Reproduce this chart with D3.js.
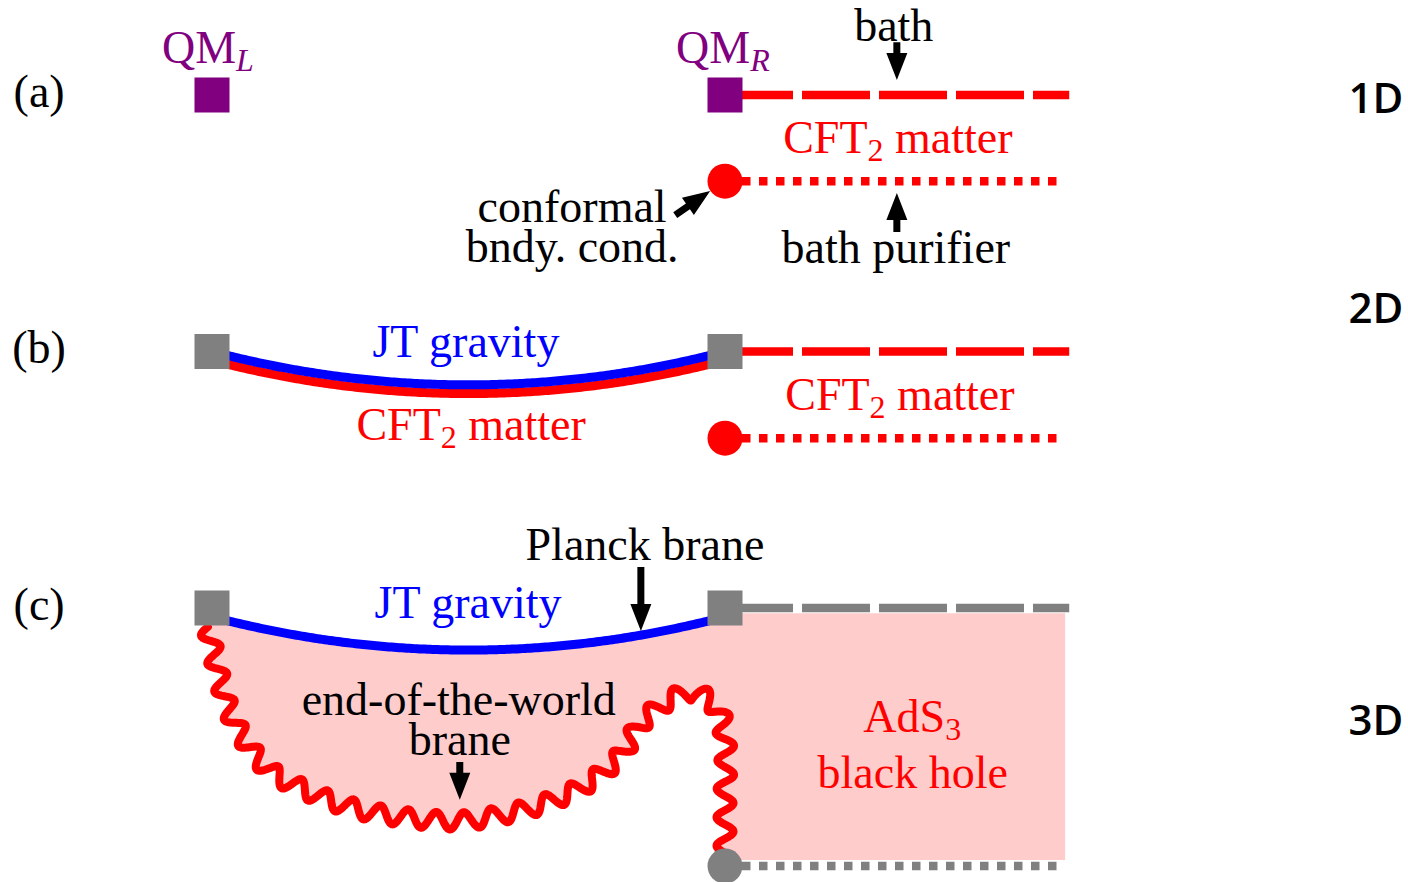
<!DOCTYPE html>
<html>
<head>
<meta charset="utf-8">
<script src="https://cdn.jsdelivr.net/npm/d3@7"></script>
<style>
  html, body { margin: 0; padding: 0; background: #fff; }
  svg { display: block; }
  .serif { font-family: "Liberation Serif", "Times New Roman", serif; }
  .dim { font-family: "Open Sans", "Noto Sans", sans-serif; font-weight: 600; }
</style>
</head>
<body>
<svg id="fig" width="1408" height="882"></svg>
<script>
// Diagram coordinates: one unit = distance between the two boundary quantum systems.
// u runs left→right (QM_L at 0, QM_R at 1); v runs top→bottom (row a at 0, row b at 0.5, row c at 1).
const rowV = [0, 0.5, 1];
const panelLabels = ["(a)", "(b)", "(c)"];
const panelLabelU = -0.337;
const panelLabelDV = 0.023;
const dimensionLabels = ["1D", "2D", "3D"];
const dimensionV = [0.035, 0.444, 1.247];
const dimensionU = 2.269;
const boundaryU = [0, 1];
const bathEndU = 1.671;
const purifierEndU = 1.653;
const purifierV = [0.168, 0.669];
const shadowPurifierV = 1.503;
const arcSag = 0.065;
// JT boundary arcs: row, vertical offset from the row, colour
const arcRows = [0.5, 0.5, 1];
const arcOffsets = [0.017, 0, 0.017];
const arcColors = ["#ff0000", "#0000ff", "#0000ff"];
// AdS3 black hole region to the right of the boundary
const blackHoleU = [1, 1.663];
const blackHoleV = [1.010, 1.491];
// End-of-the-world brane centre line
const braneU = [-0.008, 0.006, 0.035, 0.074, 0.117, 0.191, 0.275, 0.366, 0.483, 0.561, 0.639, 0.727, 0.795, 0.834, 0.883, 0.938, 0.986, 1.000, 1.000, 1.000];
const braneV = [1.037, 1.101, 1.203, 1.273, 1.320, 1.359, 1.390, 1.407, 1.415, 1.404, 1.384, 1.345, 1.289, 1.228, 1.185, 1.164, 1.199, 1.257, 1.374, 1.487];
// Annotation arrows: tail (u,v) → head (u,v)
const arrowFromU = [1.335, 1.335, 0.903, 0.836, 0.483];
const arrowFromV = [-0.103, 0.267, 0.234, 0.920, 1.300];
const arrowToU = [1.335, 1.335, 0.971, 0.836, 0.483];
const arrowToV = [-0.029, 0.191, 0.187, 1.045, 1.374];
// Text labels
const labelText = ["QM", "QM", "bath", "CFT", "conformal", "bndy. cond.", "bath purifier",
  "JT gravity", "CFT", "CFT", "Planck brane", "JT gravity", "end-of-the-world", "brane", "AdS", "black hole"];
const labelSub = ["L", "R", "", "2", "", "", "", "", "2", "2", "", "", "", "", "3", ""];
const labelTail = ["", "", "", " matter", "", "", "", "", " matter", " matter", "", "", "", "", "", ""];
const labelU = [-0.008, 0.996, 1.329, 1.337, 0.702, 0.702, 1.333, 0.495, 0.505, 1.341, 0.844, 0.499, 0.481, 0.483, 1.365, 1.366];
const labelV = [-0.062, -0.062, -0.105, 0.113, 0.248, 0.326, 0.327, 0.511, 0.673, 0.614, 0.906, 1.019, 1.209, 1.287, 1.242, 1.351];
const labelColor = ["#800080", "#800080", "#000", "#ff0000", "#000", "#000", "#000",
  "#0000ff", "#ff0000", "#ff0000", "#000", "#0000ff", "#000", "#000", "#ff0000", "#ff0000"];

const x = d3.scaleLinear().domain([0, 1]).range([212, 725]);
const y = d3.scaleLinear().domain([0, 1]).range([95, 608]);
const unit = x(1) - x(0);

const svg = d3.select("#fig");
const RED = "#ff0000", BLUE = "#0000ff", GRAY = "#808080", PURPLE = "#800080", PINK = "#ffcccc";
const sq = 35, dotR = 17.5;

// circular arc between the two boundary points of a row, bowing downward
function arcPoints(row, offset) {
  const x0 = x(0), x1 = x(1);
  const h = (x1 - x0) / 2;
  const s = arcSag * unit;
  const R = (h * h + s * s) / (2 * s);
  const cx = x(0.5), cy = y(row + offset + arcSag) - R;
  const pts = [];
  for (let i = 0; i <= 200; i++) {
    const px = x0 + (x1 - x0) * i / 200;
    pts.push([px, cy + Math.sqrt(R * R - (px - cx) * (px - cx))]);
  }
  return pts;
}

// snake-decorated brane: sine offset along the smoothed centre line
function wavyPoints() {
  const base = braneU.map((u, i) => [x(u), y(braneV[i])]);
  const tmp = svg.append("path")
    .attr("d", d3.line().curve(d3.curveCatmullRom.alpha(0.5))(base))
    .attr("fill", "none");
  const node = tmp.node();
  const L = node.getTotalLength();
  const amp = 8.5, lambda = 28.5;
  const pts = [];
  for (let s = 0; s <= L; s += 0.75) {
    const p = node.getPointAtLength(s);
    const a = node.getPointAtLength(Math.max(0, s - 0.6));
    const b = node.getPointAtLength(Math.min(L, s + 0.6));
    let tx = b.x - a.x, ty = b.y - a.y;
    const tl = Math.hypot(tx, ty) || 1;
    tx /= tl; ty /= tl;
    const off = amp * Math.sin(2 * Math.PI * s / lambda);
    pts.push([p.x - ty * off, p.y + tx * off]);
  }
  tmp.remove();
  return pts;
}

const line = d3.line();

// ---- (c) shaded bulk region ----
const wave = wavyPoints();
const topArc = arcPoints(arcRows[2], arcOffsets[2]);
const regionPts = topArc
  .concat([[x(blackHoleU[0]), y(blackHoleV[0])], [x(blackHoleU[1]), y(blackHoleV[0])],
           [x(blackHoleU[1]), y(blackHoleV[1])], [x(blackHoleU[0]), y(blackHoleV[1])]])
  .concat(wave.slice().reverse());
svg.append("path").attr("d", line(regionPts) + "Z").attr("fill", PINK).attr("stroke", "none");

// ---- bath lines (dashed) and purifier lines (dotted) ----
const bathRows = [{ v: rowV[0], c: RED }, { v: rowV[1], c: RED }, { v: rowV[2], c: GRAY }];
svg.selectAll("line.bath").data(bathRows).join("line")
  .attr("class", "bath")
  .attr("x1", x(1)).attr("x2", x(bathEndU))
  .attr("y1", d => y(d.v)).attr("y2", d => y(d.v))
  .attr("stroke", d => d.c).attr("stroke-width", 8.5)
  .attr("stroke-dasharray", "68 9");

const purRows = [{ v: purifierV[0], c: RED }, { v: purifierV[1], c: RED }, { v: shadowPurifierV, c: GRAY }];
svg.selectAll("line.pur").data(purRows).join("line")
  .attr("class", "pur")
  .attr("x1", x(1)).attr("x2", x(purifierEndU))
  .attr("y1", d => y(d.v)).attr("y2", d => y(d.v))
  .attr("stroke", d => d.c).attr("stroke-width", 8.5)
  .attr("stroke-dasharray", "8.5 8.5");

// ---- JT boundary arcs ----
arcRows.forEach((row, i) => {
  svg.append("path").attr("d", line(arcPoints(row, arcOffsets[i])))
    .attr("fill", "none").attr("stroke", arcColors[i]).attr("stroke-width", 9);
});

// ---- end-of-the-world brane ----
svg.append("path").attr("d", line(wave))
  .attr("fill", "none").attr("stroke", RED).attr("stroke-width", 8)
  .attr("stroke-linejoin", "round").attr("stroke-linecap", "round");

// ---- boundary squares ----
const squares = [];
rowV.forEach((v, r) => boundaryU.forEach(u => squares.push({ u, v, c: r === 0 ? PURPLE : GRAY })));
svg.selectAll("rect.qm").data(squares).join("rect")
  .attr("class", "qm")
  .attr("x", d => x(d.u) - sq / 2).attr("y", d => y(d.v) - sq / 2)
  .attr("width", sq).attr("height", sq).attr("fill", d => d.c);

// ---- conformal boundary condition dots ----
svg.selectAll("circle.bc").data(purRows).join("circle")
  .attr("class", "bc")
  .attr("cx", x(1)).attr("cy", d => y(d.v)).attr("r", dotR).attr("fill", d => d.c);

// ---- arrows ----
function arrowPath(x0, y0, x1, y1) {
  const w = 7, hw = 21, hl = 27;
  const len = Math.hypot(x1 - x0, y1 - y0);
  const dx = (x1 - x0) / len, dy = (y1 - y0) / len;
  const nx = -dy, ny = dx;
  const bx = x1 - dx * hl, by = y1 - dy * hl;
  const p = [
    [x0 + nx * w / 2, y0 + ny * w / 2], [bx + nx * w / 2, by + ny * w / 2],
    [bx + nx * hw / 2, by + ny * hw / 2], [x1, y1],
    [bx - nx * hw / 2, by - ny * hw / 2], [bx - nx * w / 2, by - ny * w / 2],
    [x0 - nx * w / 2, y0 - ny * w / 2]];
  return line(p) + "Z";
}
arrowFromU.forEach((u, i) => {
  svg.append("path")
    .attr("d", arrowPath(x(u), y(arrowFromV[i]), x(arrowToU[i]), y(arrowToV[i])))
    .attr("fill", "#000");
});

// ---- text ----
const fs = 46, subFs = 32;
labelText.forEach((t, i) => {
  const txt = svg.append("text").attr("class", "serif")
    .attr("x", x(labelU[i])).attr("y", y(labelV[i]))
    .attr("text-anchor", "middle").attr("font-size", fs).attr("fill", labelColor[i]);
  txt.append("tspan").text(t);
  if (labelSub[i]) {
    const italic = labelSub[i] === "L" || labelSub[i] === "R";
    txt.append("tspan").attr("font-size", subFs).attr("dy", 8)
      .attr("font-style", italic ? "italic" : "normal").text(labelSub[i]);
    if (labelTail[i]) txt.append("tspan").attr("dy", -8).text(labelTail[i]);
  }
});

svg.selectAll("text.panel").data(panelLabels).join("text")
  .attr("class", "panel serif")
  .attr("x", x(panelLabelU)).attr("y", (d, i) => y(rowV[i] + panelLabelDV))
  .attr("text-anchor", "middle").attr("font-size", fs).attr("fill", "#000")
  .text(d => d);

svg.selectAll("text.dimlab").data(dimensionLabels).join("text")
  .attr("class", "dimlab dim")
  .attr("x", x(dimensionU)).attr("y", (d, i) => y(dimensionV[i]))
  .attr("text-anchor", "middle").attr("font-size", 42).attr("fill", "#000")
  .text(d => d);
</script>
</body>
</html>
